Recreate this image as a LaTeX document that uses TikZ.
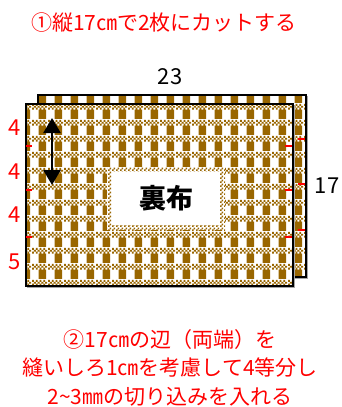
\documentclass[tikz,border=0pt]{standalone}
\usepackage{fontspec}
\setmainfont{Noto Sans CJK JP}
\usetikzlibrary{patterns,arrows.meta}

\definecolor{clothbrown}{RGB}{153,102,0}
\definecolor{markred}{RGB}{255,0,0}

% gingham: brown stripe + checkered band
\pgfdeclarepatternformonly{gingham}{\pgfqpoint{0pt}{0pt}}{\pgfqpoint{16pt}{16pt}}{\pgfqpoint{16pt}{16pt}}{%
  \pgfpathrectangle{\pgfqpoint{7pt}{0pt}}{\pgfqpoint{8pt}{10pt}}%
  \foreach \c in {0,4,8,12} {
    \pgfpathrectangle{\pgfpoint{\c pt}{10pt}}{\pgfqpoint{2pt}{2pt}}
    \pgfpathrectangle{\pgfpoint{\c pt+2pt}{12pt}}{\pgfqpoint{2pt}{2pt}}
    \pgfpathrectangle{\pgfpoint{\c pt}{14pt}}{\pgfqpoint{2pt}{2pt}}
  }%
  \pgfusepath{fill}}
\pgfdeclarepatternformonly{checker}{\pgfqpoint{0pt}{0pt}}{\pgfqpoint{4pt}{4pt}}{\pgfqpoint{4pt}{4pt}}{%
  \pgfpathrectangle{\pgfqpoint{0pt}{0pt}}{\pgfqpoint{2pt}{2pt}}%
  \pgfpathrectangle{\pgfqpoint{2pt}{2pt}}{\pgfqpoint{2pt}{2pt}}%
  \pgfusepath{fill}}

\tikzset{
  fabric/.style={fill=white,
    preaction={draw=black!35, line width=1.5pt, transform canvas={shift={(1.5,1.5)}}},
    postaction={pattern=gingham, pattern color=clothbrown},
    postaction={draw=black, line width=1.8pt}},
  note/.style={text=markred, inner sep=0pt, font=\fontsize{21}{28.5}\selectfont},
  dim/.style={inner sep=0pt, font=\fontsize{22}{24}\selectfont},
  tick/.style={draw=markred, line width=1.6pt},
}

\begin{document}
\begin{tikzpicture}[x=1pt, y=-1pt]
    \useasboundingbox (0,0) rectangle (342,407);

    % two pieces of cloth
    \coordinate (backnw) at (38,95);
    \coordinate (backse) at (306,277);
    \coordinate (frontnw) at (26,104);
    \coordinate (frontse) at (293,286);
    \path[fabric] (backnw) rectangle (backse);
    \path[fabric] (frontnw) rectangle (frontse);

    % cut marks
    \foreach \y in {139,184,230} {
      \draw[tick] (298,\y) -- (305,\y);
    }
    \foreach \y in {146,190,237} {
      \draw[tick] (26,\y) -- (32,\y);
      \draw[tick] (285,\y) -- (292,\y);
    }

    % label on the back side
    \fill[white] (107,167) rectangle (225,230);
    \fill[pattern=checker, pattern color=clothbrown] (107,167) rectangle (225,230);
    \node[fill=white, inner sep=0pt, minimum width=108pt, minimum height=53pt,
      font=\fontsize{27}{30}\selectfont\bfseries] (urabu) at (166,198.5) {裏布};

    % grain arrow
    \coordinate (graintop) at (52,118);
    \coordinate (grainbot) at (52,185);
    \draw[line width=2.6pt, {Triangle[length=15pt,width=17pt]}-{Triangle[length=15pt,width=17pt]}]
      (graintop) -- (grainbot);

    % sizes
    \node[dim] (width) at (170,77) {23};
    \node[dim] (height) at (327,186) {17};
    \node[dim, text=markred] (parta) at (15,128) {4};
    \node[dim, text=markred] (partb) at (15,172) {4};
    \node[dim, text=markred] (partc) at (15,215) {4};
    \node[dim, text=markred] (partd) at (15,262) {5};

    % instructions
    \node[note] (stepone) at (164,23) {①縦17㎝で2枚にカットする};
    \node[note, align=center] (steptwo) at (170,367.5)
      {②17㎝の辺（両端）を\\縫いしろ1㎝を考慮して4等分し\\2\textasciitilde3㎜の切り込みを入れる};
\end{tikzpicture}
\end{document}
